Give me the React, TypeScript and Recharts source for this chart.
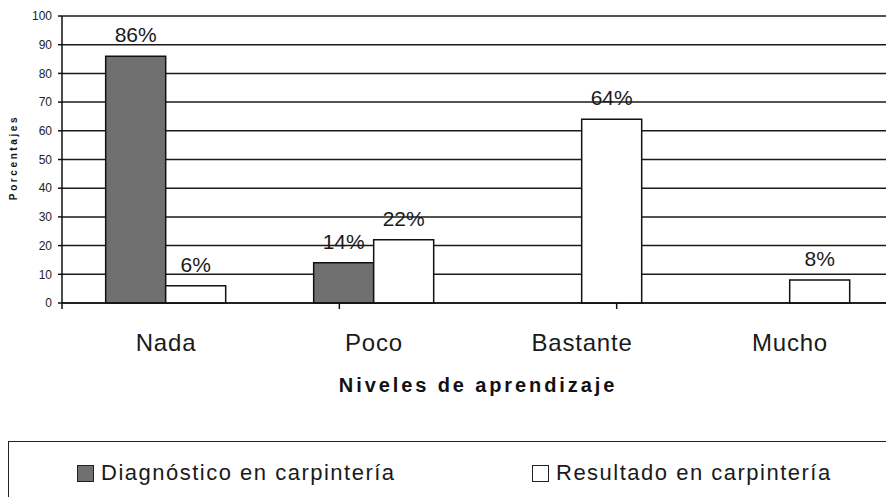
import { BarChart, Bar, XAxis, YAxis, CartesianGrid, Legend, LabelList } from "recharts";

const niveles = ["Nada", "Poco", "Bastante", "Mucho"];
const diagnostico = [86, 14, 0, 0];
const resultado = [6, 22, 64, 8];
const yTicks = [0, 10, 20, 30, 40, 50, 60, 70, 80, 90, 100];
const edgeTicks = [0, 1, 2, 3, 4];

const FONT = '"Liberation Sans", Arial, sans-serif';

const chartData = niveles.map((name, i) => ({
  name,
  diagnostico: diagnostico[i],
  resultado: resultado[i],
}));

const pct = (v: any) => (v > 0 ? `${v}%` : "");

const LegendBox = () => {
  const items = [
    { label: "Diagnóstico en carpintería", color: "#707070", left: 68 },
    { label: "Resultado en carpintería", color: "#ffffff", left: 523 },
  ];
  return (
    <div
      style={{
        position: "relative",
        width: 900,
        height: 80,
        border: "1.5px solid #222",
        boxSizing: "border-box",
        fontFamily: FONT,
      }}
    >
      {items.map((it) => (
        <div
          key={it.label}
          style={{ position: "absolute", left: it.left, top: 20, display: "flex", alignItems: "center" }}
        >
          <span
            style={{
              display: "inline-block",
              width: 15,
              height: 15,
              background: it.color,
              border: "1.5px solid #222",
              marginRight: 7,
            }}
          />
          <span style={{ fontSize: 22, lineHeight: "22px", letterSpacing: 1.5, color: "#1a1a1a" }}>
            {it.label}
          </span>
        </div>
      ))}
    </div>
  );
};

const YLabel = ({ viewBox }: any) => {
  const x = viewBox.x + 13;
  const y = viewBox.y + viewBox.height / 2 - 2;
  return (
    <text
      x={x}
      y={y}
      transform={`rotate(-90, ${x}, ${y})`}
      textAnchor="middle"
      dominantBaseline="central"
      fontSize={10}
      fontWeight="bold"
      letterSpacing={2.6}
      fontFamily={FONT}
      fill="#111"
    >
      Porcentajes
    </text>
  );
};

export default function App() {
  return (
    <div style={{ position: "absolute", left: 0, top: 0, width: 886, height: 497, overflow: "hidden", background: "#fff" }}>
      <BarChart
        width={900}
        height={497}
        data={chartData}
        margin={{ top: 16, right: 6, left: 0, bottom: 84 }}
        barCategoryGap="21%"
        barGap={0}
      >
        <CartesianGrid xAxisId="b" vertical={false} stroke="#1a1a1a" strokeWidth={1.5} />
        <XAxis
          xAxisId="b"
          dataKey="name"
          height={100}
          axisLine={false}
          tickLine={false}
          tickSize={0}
          tickMargin={21}
          tick={{ fontSize: 24, fill: "#1a1a1a", fontFamily: FONT, letterSpacing: 0.8 }}
          label={{
            value: "Niveles de aprendizaje",
            position: "insideBottom",
            offset: 21,
            fontSize: 20,
            fontWeight: "bold",
            fill: "#111",
            fontFamily: FONT,
            letterSpacing: 2.9,
          }}
        />
        <XAxis
          xAxisId="a"
          type="number"
          domain={[0, 4]}
          allowDataOverflow
          ticks={edgeTicks}
          interval={0}
          height={10}
          tickSize={6}
          tickFormatter={() => ""}
          axisLine={{ stroke: "#111", strokeWidth: 1.5 }}
          tickLine={{ stroke: "#111", strokeWidth: 1.5 }}
        />
        <YAxis
          width={62}
          domain={[0, 100]}
          ticks={yTicks}
          interval={0}
          tickSize={4}
          tickMargin={6}
          axisLine={{ stroke: "#111", strokeWidth: 1.5 }}
          tickLine={{ stroke: "#111", strokeWidth: 1.5 }}
          tick={{ fontSize: 12, fill: "#222", fontFamily: FONT }}
          label={<YLabel />}
        />
        <Legend
          verticalAlign="middle"
          align="center"
          layout="horizontal"
          wrapperStyle={{ left: 8, top: 441, width: 900, height: 80 }}
          content={() => <LegendBox />}
        />
        <Bar
          xAxisId="b"
          dataKey="diagnostico"
          name="Diagnóstico en carpintería"
          fill="#707070"
          stroke="#111"
          strokeWidth={1.5}
          isAnimationActive={false}
        >
          <LabelList dataKey="diagnostico" position="top" offset={14} formatter={pct} fontSize={21} fill="#1a1a1a" fontFamily={FONT} />
        </Bar>
        <Bar
          xAxisId="b"
          dataKey="resultado"
          name="Resultado en carpintería"
          fill="#ffffff"
          stroke="#111"
          strokeWidth={1.5}
          isAnimationActive={false}
        >
          <LabelList dataKey="resultado" position="top" offset={14} formatter={pct} fontSize={21} fill="#1a1a1a" fontFamily={FONT} />
        </Bar>
      </BarChart>
    </div>
  );
}
